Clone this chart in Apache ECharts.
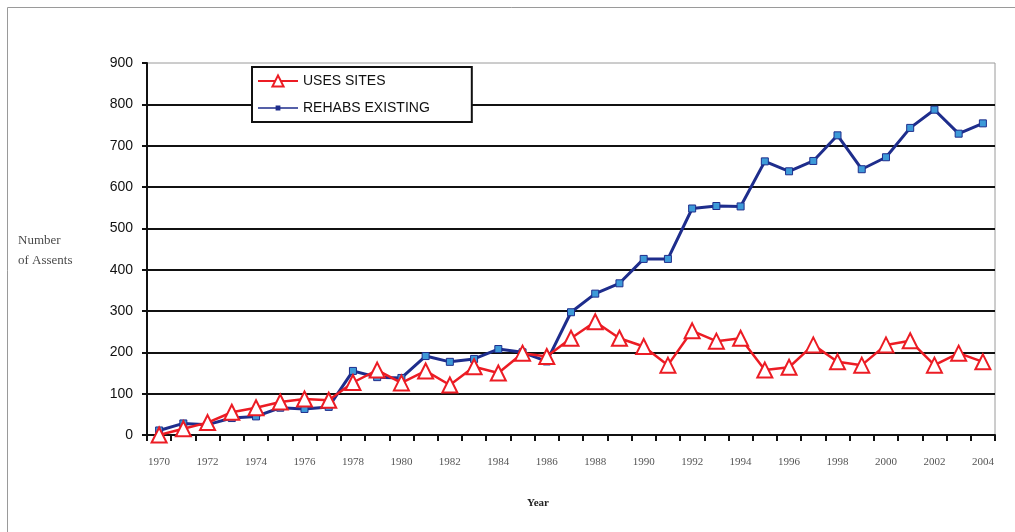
<!DOCTYPE html>
<html>
<head>
<meta charset="utf-8">
<script src="https://cdn.jsdelivr.net/npm/echarts@6/dist/echarts.min.js"></script>
<style>
  html, body { margin: 0; padding: 0; background: #fff; }
  #chart { width: 1015px; height: 532px; }
</style>
</head>
<body>
<div id="chart"></div>
<script>
// Assents per year, 1970–2004
const years = ['1970','1971','1972','1973','1974','1975','1976','1977','1978','1979',
               '1980','1981','1982','1983','1984','1985','1986','1987','1988','1989',
               '1990','1991','1992','1993','1994','1995','1996','1997','1998','1999',
               '2000','2001','2002','2003','2004'];
const usesSites = [0, 15, 30, 55, 66, 80, 87, 84, 127, 157,
                   126, 155, 121, 165, 150, 198, 190, 234, 274, 234,
                   214, 169, 252, 227, 234, 157, 164, 218, 177, 169,
                   218, 228, 169, 198, 177];
const rehabsExisting = [11, 28, 25, 41, 45, 66, 63, 68, 155, 140,
                        138, 191, 177, 184, 208, 200, 178, 297, 342, 367,
                        426, 426, 548, 554, 553, 662, 638, 663, 725, 643,
                        672, 743, 787, 729, 754];
const yTicks = [0, 100, 200, 300, 400, 500, 600, 700, 800, 900];

const chart = echarts.init(document.getElementById('chart'), null, { renderer: 'canvas' });

// black grid lines, the top edge is left to the plot border
const gridColors = yTicks.map((v, i) => i === yTicks.length - 1 ? 'transparent' : '#111');

// legend key: thin line with a small square in the middle (40 x 14 box)
const rehabsKey = 'path://M0,0 L0.01,0 L0.01,0.01 Z M40,14 L39.99,14 L39.99,13.99 Z ' +
                  'M0,6.3 L40,6.3 L40,7.7 L0,7.7 Z M17.6,4.6 L22.4,4.6 L22.4,9.4 L17.6,9.4 Z';

chart.setOption({
  animation: false,
  backgroundColor: '#fff',
  graphic: [
    { type: 'rect', left: 5, top: 5, shape: { width: 1030, height: 540 },
      style: { fill: 'none', stroke: '#9a9a9a', lineWidth: 1 }, silent: true },
    { type: 'text', left: 18, top: 234,
      style: { text: 'Number', font: '13px "Liberation Serif", serif', fill: '#4a4a4a' } },
    { type: 'text', left: 18, top: 254,
      style: { text: 'of Assents', font: '13px "Liberation Serif", serif', fill: '#4a4a4a' } },
    { type: 'text', left: 527, top: 498,
      style: { text: 'Year', font: 'bold 11px "Liberation Serif", serif', fill: '#222' } }
  ],
  legend: {
    orient: 'vertical',
    left: 252, top: 67,
    padding: [7, 42, 7, 5],
    itemGap: 13,
    itemWidth: 40, itemHeight: 14,
    backgroundColor: '#fff',
    borderColor: '#111', borderWidth: 2,
    textStyle: { fontFamily: '"Liberation Sans", Arial, sans-serif', fontSize: 14, color: '#111' },
    data: [
      'USES SITES',
      { name: 'REHABS EXISTING', icon: rehabsKey,
        itemStyle: { color: '#1e2d8c', borderWidth: 0 } }
    ]
  },
  grid: {
    left: 147, right: 20, top: 63, bottom: 97,
    show: true, borderColor: '#9a9a9a', borderWidth: 1, backgroundColor: 'transparent'
  },
  xAxis: {
    type: 'category',
    data: years,
    boundaryGap: true,
    axisLine: { lineStyle: { color: '#111', width: 2 } },
    axisTick: { show: true, interval: 0, length: 6, lineStyle: { color: '#111', width: 2 } },
    axisLabel: {
      interval: 1, margin: 22,
      fontFamily: '"Liberation Serif", serif', fontSize: 11, color: '#555'
    },
    splitLine: { show: false }
  },
  yAxis: {
    type: 'value',
    min: 0, max: 900, interval: 100,
    axisLine: { show: true, lineStyle: { color: '#111', width: 2 } },
    axisTick: { show: true, length: 5, lineStyle: { color: '#111', width: 2 } },
    axisLabel: {
      margin: 14,
      fontFamily: '"Liberation Sans", Arial, sans-serif', fontSize: 14, color: '#111'
    },
    splitLine: { show: true, lineStyle: { color: gridColors, width: 2 } }
  },
  series: [
    {
      name: 'REHABS EXISTING',
      type: 'line',
      data: rehabsExisting,
      z: 3,
      symbol: 'rect',
      symbolSize: 7,
      showAllSymbol: true,
      lineStyle: { color: '#1e2d8c', width: 3 },
      itemStyle: { color: '#3d9ad8', borderColor: '#1e2d8c', borderWidth: 1 }
    },
    {
      name: 'USES SITES',
      type: 'line',
      data: usesSites,
      z: 4,
      symbol: 'triangle',
      symbolSize: 15,
      showAllSymbol: true,
      lineStyle: { color: '#ec1c24', width: 2.5 },
      itemStyle: { color: '#fff', borderColor: '#ec1c24', borderWidth: 2 }
    }
  ]
});
</script>
</body>
</html>
